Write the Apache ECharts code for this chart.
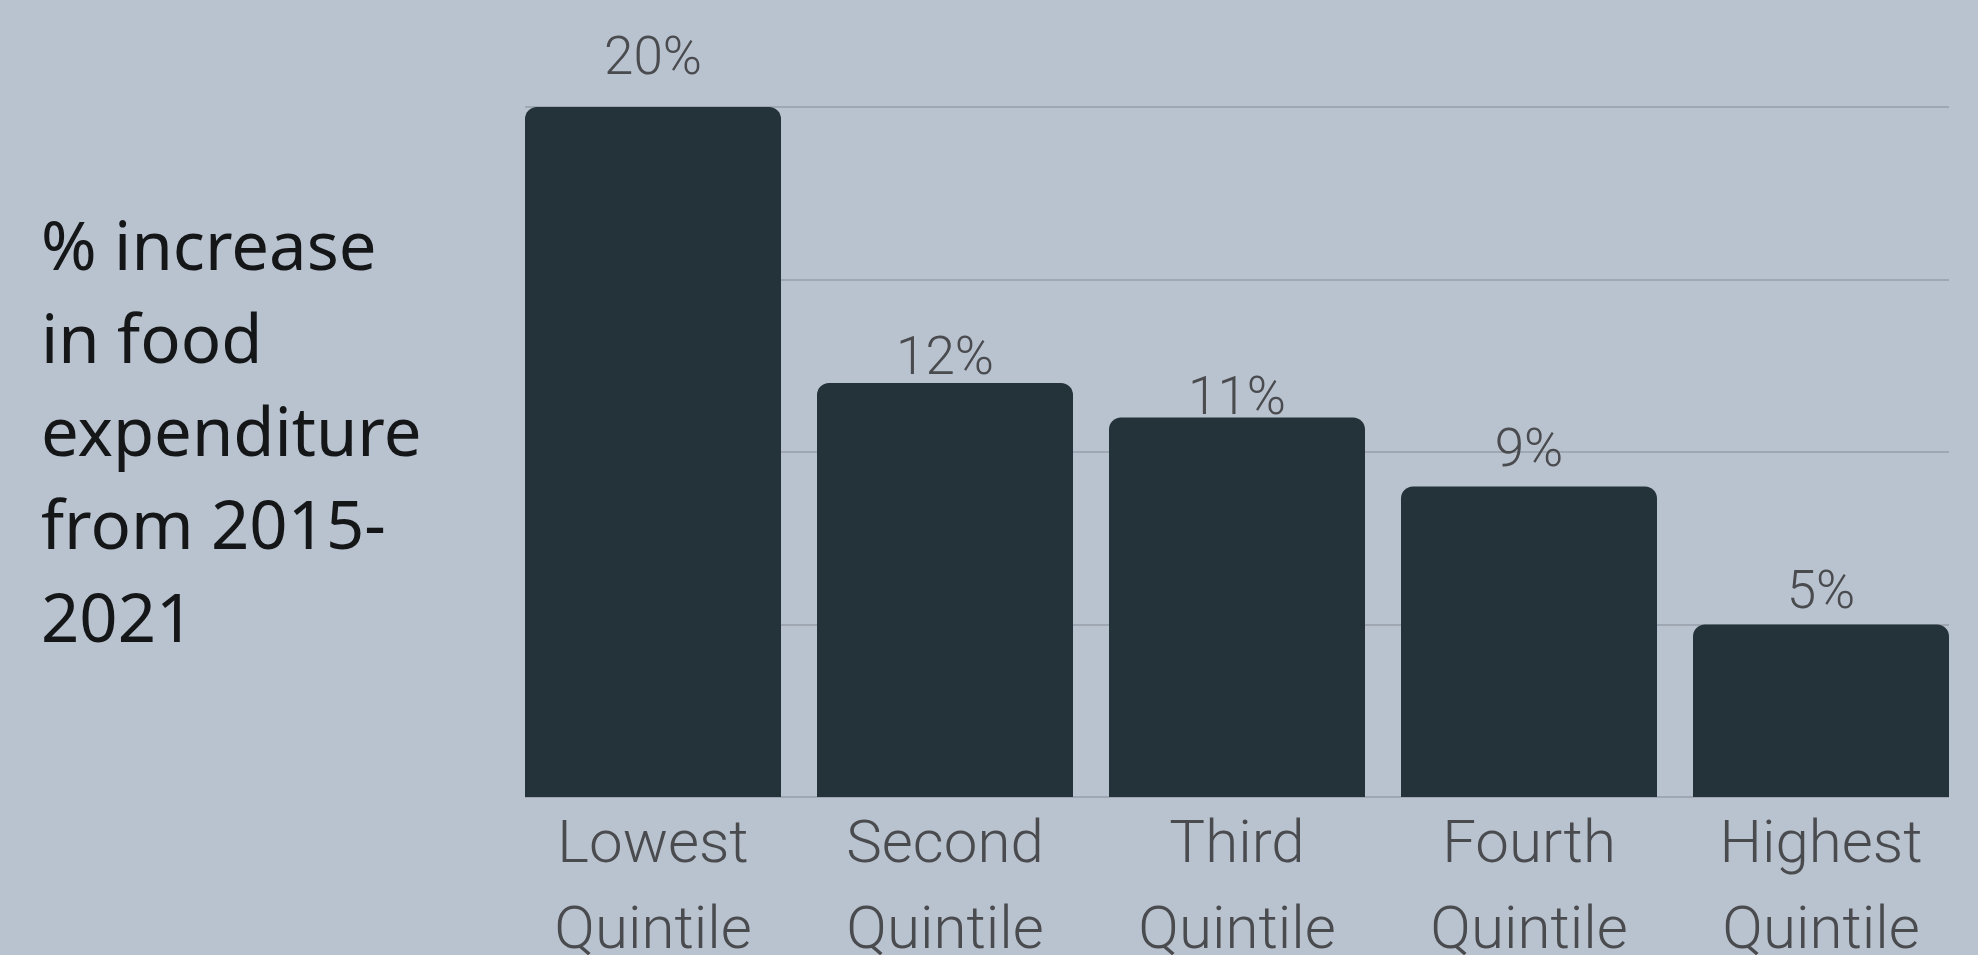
<!DOCTYPE html>
<html>
<head>
<meta charset="utf-8">
<script src="https://cdn.jsdelivr.net/npm/echarts@6/dist/echarts.min.js"></script>
<style>
  html, body { margin: 0; padding: 0; background: #b9c3cf; }
  #chart { width: 1978px; height: 955px; }
</style>
</head>
<body>
<div id="chart"></div>
<script>
// ---- data ----
const categories = ['Lowest\nQuintile', 'Second\nQuintile', 'Third\nQuintile', 'Fourth\nQuintile', 'Highest\nQuintile'];
const values = [20, 12, 11, 9, 5];
const yTicks = [0, 5, 10, 15, 20];
const sideTitle = '% increase\nin food\nexpenditure\nfrom 2015-\n2021';

// ---- styling (label gaps above each bar, as in the reference) ----
const labelGaps = [20, -4, -10, 7, 3];

const chart = echarts.init(document.getElementById('chart'), null, { renderer: 'canvas' });

const yMin = yTicks[0], yMax = yTicks[yTicks.length - 1], yStep = yTicks[1] - yTicks[0];

const option = {
  backgroundColor: '#b9c3cf',
  animation: false,
  title: {
    text: sideTitle,
    left: 36,
    top: 199,
    textStyle: {
      fontFamily: 'Noto Sans',
      fontSize: 67,
      fontWeight: 'normal',
      lineHeight: 93,
      color: '#141618'
    }
  },
  grid: [
    { left: 525, width: 1424, top: 107, height: 690, containLabel: false, outerBoundsMode: 'none' },
    { left: 507, width: 1460, top: 107, height: 690, containLabel: false, outerBoundsMode: 'none' }
  ],
  xAxis: [
    { gridIndex: 0, type: 'category', data: categories, show: false },
    {
      gridIndex: 1, type: 'category', data: categories,
      axisLine: { show: false }, axisTick: { show: false },
      axisLabel: {
        margin: 7,
        fontFamily: 'Roboto',
        fontSize: 60,
        fontWeight: 300,
        lineHeight: 86,
        color: '#4a4b4e',
        interval: 0
      }
    }
  ],
  yAxis: [
    {
      gridIndex: 0, type: 'value', min: yMin, max: yMax, interval: yStep,
      axisLine: { show: false }, axisTick: { show: false }, axisLabel: { show: false },
      splitLine: { show: true, lineStyle: { color: '#979fa9', width: 1.5 } }
    },
    {
      gridIndex: 1, type: 'value', min: yMin, max: yMax, interval: yStep,
      axisLine: { show: false }, axisTick: { show: false }, axisLabel: { show: false },
      splitLine: { show: false }
    }
  ],
  series: [
    {
      type: 'bar',
      xAxisIndex: 1,
      yAxisIndex: 1,
      barWidth: 256,
      data: values.map((v, i) => ({
        value: v,
        label: { distance: labelGaps[i] }
      })),
      itemStyle: { color: '#243239', borderRadius: [12, 12, 0, 0] },
      label: {
        show: true,
        position: 'top',
        formatter: p => p.value + '%',
        fontFamily: 'Roboto',
        fontSize: 53,
        fontWeight: 300,
        lineHeight: 53,
        color: '#4a4b4e'
      }
    }
  ]
};

chart.setOption(option);
</script>
</body>
</html>
